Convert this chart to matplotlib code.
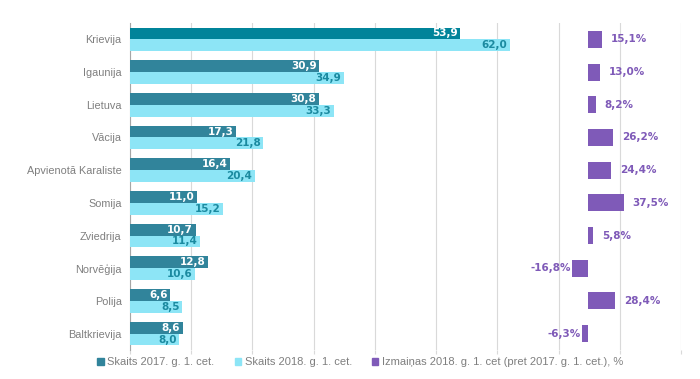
import numpy as np
import matplotlib.pyplot as plt

plt.rcParams['font.family'] = ['Liberation Sans', 'DejaVu Sans']

countries = ["Krievija", "Igaunija", "Lietuva", "Vācija", "Apvienotā Karaliste",
             "Somija", "Zviedrija", "Norvēģija", "Polija", "Baltkrievija"]
skaits_2017 = [53.9, 30.9, 30.8, 17.3, 16.4, 11.0, 10.7, 12.8, 6.6, 8.6]
skaits_2018 = [62.0, 34.9, 33.3, 21.8, 20.4, 15.2, 11.4, 10.6, 8.5, 8.0]
izmainas = [15.1, 13.0, 8.2, 26.2, 24.4, 37.5, 5.8, -16.8, 28.4, -6.3]

legend_labels = ["Skaits 2017. g. 1. cet.", "Skaits 2018. g. 1. cet.",
                 "Izmaiņas 2018. g. 1. cet (pret 2017. g. 1. cet.), %"]

dark = "#31849b"
dark_hl = "#00849a"
light = "#8de5f6"
purple = "#7f5ab8"
grey = "#7f7f7f"
num_font = ["DejaVu Sans"]

def fmt(v, pct=False):
    s = f"{v:.1f}".replace(".", ",")
    return s + "%" if pct else s

fig = plt.figure(figsize=(7, 3.79), dpi=100)
ax = fig.add_axes([130 / 700, 1 - 350 / 379, 551 / 700, 327 / 379])

y = np.arange(len(countries))
h = 0.36
c17 = [dark_hl] + [dark] * (len(countries) - 1)
ax.barh(y - h / 2, skaits_2017, height=h, color=c17, zorder=3)
ax.barh(y + h / 2, skaits_2018, height=h, color=light, zorder=3)

for yy, v in zip(y, skaits_2017):
    ax.text(v - 0.4, yy - h / 2, fmt(v), ha="right", va="center", family=num_font,
            color="white", fontsize=7.5, fontweight="bold", zorder=4)
for yy, v in zip(y, skaits_2018):
    ax.text(v - 0.4, yy + h / 2, fmt(v), ha="right", va="center", family=num_font,
            color="#1b8aa0", fontsize=7.5, fontweight="bold", zorder=4)

ax.set_xlim(0, 90)
ax.set_ylim(len(countries) - 0.5, -0.5)
ax.set_xticks(np.arange(0, 91, 10))
ax.set_xticklabels([])
ax.tick_params(axis="x", length=3, color="#d9d9d9")
ax.tick_params(axis="y", length=0, pad=6)
ax.set_yticks(y)
ax.set_yticklabels(countries, fontsize=7.8, color=grey)
ax.grid(axis="x", color="#d9d9d9", linewidth=0.8, zorder=0)
for s in ["top", "right", "bottom"]:
    ax.spines[s].set_visible(False)
ax.spines["left"].set_color("#a6a6a6")

# percentage change on a separate scale
ax2 = ax.twiny()
ax2.set_xlim(-477, 97)
ax2.set_ylim(ax.get_ylim())
ax2.barh(y, izmainas, height=0.52, color=purple, zorder=3)
for yy, v in zip(y, izmainas):
    if v >= 0:
        ax2.text(v + 9, yy, fmt(v, True), ha="left", va="center", family=num_font,
                 color=purple, fontsize=7.5, fontweight="bold")
    else:
        ax2.text(v - 1, yy, fmt(v, True), ha="right", va="center", family=num_font,
                 color=purple, fontsize=7.5, fontweight="bold")
ax2.set_xticks([])
for s in ax2.spines.values():
    s.set_visible(False)

# legend
handles = [plt.Rectangle((0, 0), 1, 1, color=c) for c in [dark, light, purple]]
fig.legend(handles, legend_labels, loc="center left", bbox_to_anchor=(93 / 700, 1 - 362 / 379),
           ncol=3, frameon=False, fontsize=8, labelcolor=grey, handlelength=0.6,
           handleheight=0.6, handletextpad=0.3, columnspacing=1.8, borderaxespad=0)

fig.savefig("out.png", dpi=100)
